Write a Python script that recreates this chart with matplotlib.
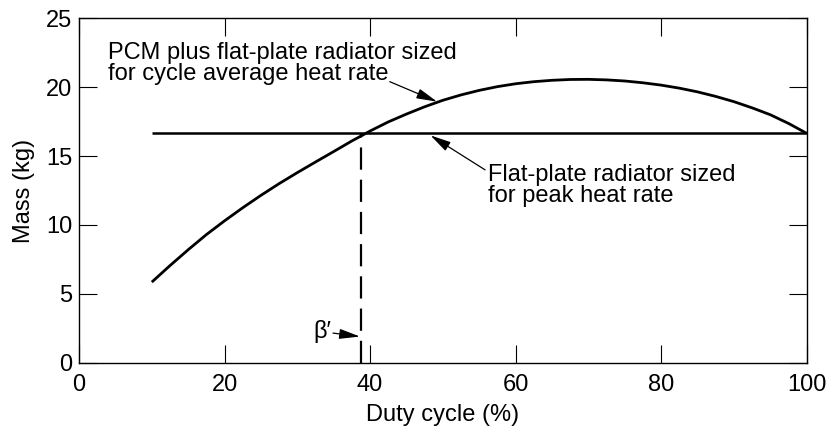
import matplotlib.pyplot as plt

plt.rcParams['font.family'] = ['Liberation Sans', 'DejaVu Sans']

# Curve: PCM plus flat-plate radiator (cycle average)
duty_pcm = [10, 12.5, 15, 17.5, 20, 22.5, 25, 27.5, 30, 32.5, 35, 37.5, 38.8,
            40, 42.5, 45, 47.5, 50, 52.5, 55, 57.5, 60, 62.5, 65, 67.5, 70,
            72.5, 75, 77.5, 80, 82.5, 85, 87.5, 90, 92.5, 95, 97.5, 100]
mass_pcm = [5.85, 7.05, 8.2, 9.3, 10.3, 11.25, 12.15, 13.0, 13.8, 14.57, 15.33, 16.1, 16.47,
            16.82, 17.48, 18.05, 18.58, 19.05, 19.44, 19.77, 20.04, 20.25, 20.4, 20.5, 20.56, 20.57,
            20.53, 20.45, 20.32, 20.15, 19.93, 19.66, 19.33, 18.95, 18.5, 18.0, 17.37, 16.65]

# Flat-plate radiator sized for peak heat rate
duty_flat = [10, 100]
mass_flat = [16.65, 16.65]

# break-even duty cycle beta'
beta_x = 38.8
beta_y = 16.65

fig, ax = plt.subplots(figsize=(8.32, 4.26), dpi=100)
fig.subplots_adjust(left=0.095, right=0.9696, bottom=0.1486, top=0.957)

ax.plot(duty_pcm, mass_pcm, color='black', lw=2.0, solid_capstyle='butt',
        solid_joinstyle='round')
ax.plot(duty_flat, mass_flat, color='black', lw=1.8, solid_capstyle='butt')
ax.plot([beta_x, beta_x], [0, beta_y], color='black', lw=1.6, linestyle=(0, (10, 4.5)))

ax.set_xlim(0, 100)
ax.set_ylim(0, 25)
ax.set_xticks([0, 20, 40, 60, 80, 100])
ax.set_yticks([0, 5, 10, 15, 20, 25])
ax.tick_params(direction='in', length=13, width=0.8, top=True, right=True,
               labelsize=17)
ax.tick_params(axis='x', pad=8)
ax.tick_params(axis='y', pad=5)
for s in ax.spines.values():
    s.set_linewidth(1.0)

ax.set_xlabel('Duty cycle (%)', fontsize=17, labelpad=6)
ax.set_ylabel('Mass (kg)', fontsize=17, labelpad=8)

arrow = dict(arrowstyle='-|>,head_length=0.9,head_width=0.22', color='black',
             lw=0.9, mutation_scale=14, shrinkA=0, shrinkB=0)

ax.text(4.0, 23.3, 'PCM plus flat-plate radiator sized\nfor cycle average heat rate',
        fontsize=17, ha='left', va='top', linespacing=0.95)
ax.annotate('', xy=(49.2, 18.95), xytext=(42.7, 20.4), arrowprops=arrow)

ax.text(56.2, 14.4, 'Flat-plate radiator sized\nfor peak heat rate',
        fontsize=17, ha='left', va='top', linespacing=0.95)
ax.annotate('', xy=(48.3, 16.5), xytext=(55.8, 14.0), arrowprops=arrow)

ax.text(34.6, 2.3, "β′", fontsize=17, ha='right', va='center')
ax.annotate('', xy=(38.6, 1.9), xytext=(34.9, 2.15), arrowprops=arrow)

fig.savefig('out.png', dpi=100)
